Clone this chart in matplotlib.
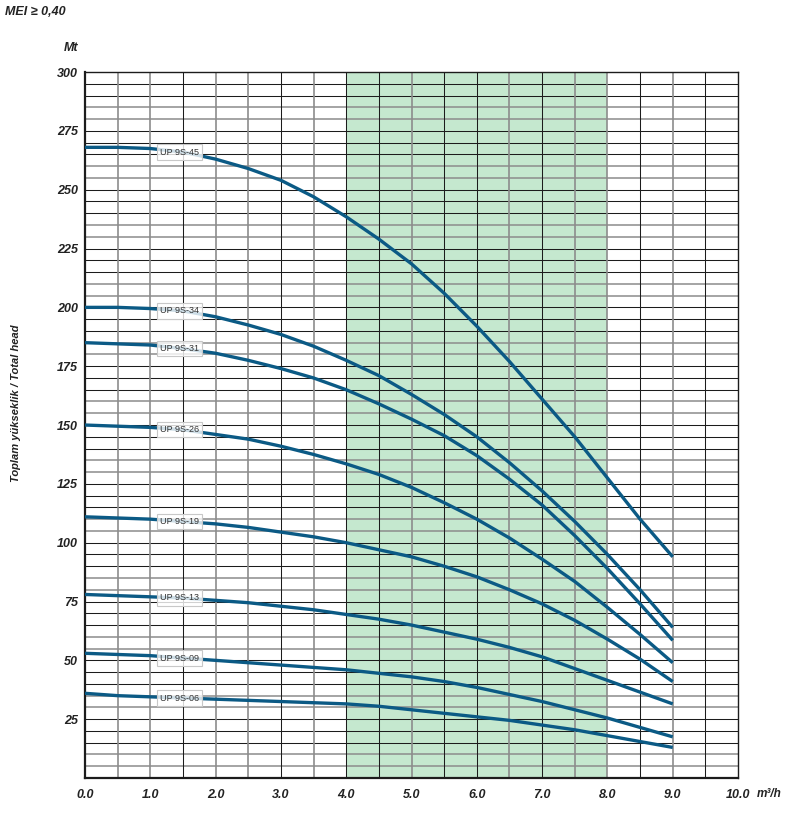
import numpy as np
import matplotlib
matplotlib.use("Agg")
import matplotlib.pyplot as plt

# -------------------------------------------------------
# Data (flow m3/h -> head m)
# -------------------------------------------------------
flow = [0.0, 0.5, 1.0, 1.5, 2.0, 2.5, 3.0, 3.5, 4.0, 4.5,
        5.0, 5.5, 6.0, 6.5, 7.0, 7.5, 8.0, 8.5, 9.0]

head_45 = [268, 268, 267.5, 266, 263, 259, 254, 247, 238.5, 229,
           218.5, 206, 192, 177, 161, 145, 127.5, 110, 94]
head_34 = [200, 200, 199.5, 198.5, 196, 192.5, 188.5, 183.5, 177.5, 171,
           163, 154.5, 145, 134, 122, 109, 95, 80, 64]
head_31 = [185, 184.5, 184, 182.5, 180.5, 177.5, 174, 170, 165, 159,
           152.5, 145.5, 137, 127, 116, 103, 89, 74, 58.5]
head_26 = [150, 149.5, 149, 148, 146, 144, 141, 137.5, 133.5, 129,
           123.5, 117, 110, 102, 93, 83.5, 72.5, 61, 49]
head_19 = [111, 110.5, 110, 109, 108, 106.5, 104.5, 102.5, 100, 97,
           94, 90, 85.5, 80, 74, 67, 59, 50.5, 41]
head_13 = [78, 77.5, 77, 76.5, 75.5, 74.5, 73, 71.5, 69.5, 67.5,
           65, 62, 59, 55.5, 51.5, 46.5, 41.5, 36.5, 31.5]
head_09 = [53, 52.5, 52, 51, 50, 49, 48, 47, 46, 44.5,
           43, 41, 38.5, 35.5, 32.5, 29, 25.5, 21.5, 17.5]
head_06 = [36, 35, 34.5, 34, 33.5, 33, 32.5, 32, 31.5, 30.5,
           29, 27.5, 26, 24.5, 22.5, 20.5, 18, 15.5, 13]

models = ["UP 9S-45", "UP 9S-34", "UP 9S-31", "UP 9S-26",
          "UP 9S-19", "UP 9S-13", "UP 9S-09", "UP 9S-06"]
heads = [head_45, head_34, head_31, head_26, head_19, head_13, head_09, head_06]

x_ticks = [0, 1, 2, 3, 4, 5, 6, 7, 8, 9, 10]
y_ticks = [25, 50, 75, 100, 125, 150, 175, 200, 225, 250, 275, 300]

# -------------------------------------------------------
# Style
# -------------------------------------------------------
CURVE_COLOR = "#0b5a85"
GREEN       = "#c5e8cf"
DARK        = "#1c1c1c"
GREY        = "#8c8c8c"
TEXT_COLOR  = "#222222"
FONT        = ["Liberation Sans", "DejaVu Sans"]

plt.rcParams["font.family"] = FONT

fig = plt.figure(figsize=(7.89, 8.14), dpi=100)
ax = fig.add_axes([0.1077, 0.0442, 0.8277, 0.8673])
ax.set_xlim(0, 10)
ax.set_ylim(0, 300)

# best efficiency band
ax.axvspan(4, 8, color=GREEN, zorder=0, lw=0)

# grid: horizontal every 5 m, vertical every 0.5 m3/h
for v in np.arange(5, 300, 5):
    grey = (v % 25) in (5, 10)
    ax.axhline(v, color=GREY if grey else DARK, lw=1.1 if grey else 0.75, zorder=1)

grey_vert = {0.5, 1.0, 2.0, 2.5, 3.5, 5.0, 6.5, 7.5, 8.0, 9.0}
for v in np.arange(0.5, 10, 0.5):
    grey = float(v) in grey_vert
    ax.axvline(v, color=GREY if grey else DARK, lw=1.2 if grey else 0.75, zorder=1)

for s in ax.spines.values():
    s.set_color(DARK)
    s.set_linewidth(1.0)
ax.spines["left"].set_linewidth(1.6)
ax.spines["bottom"].set_linewidth(1.6)

# curves + labels
for name, h in zip(models, heads):
    ax.plot(flow, h, color=CURVE_COLOR, lw=2.4, solid_capstyle="butt", zorder=3)
    y_lab = np.interp(1.5, flow, h)
    ax.text(1.15, y_lab, name, fontsize=6.5, color="#333333", ha="left", va="center",
            zorder=4,
            bbox=dict(boxstyle="square,pad=0.35", fc=(1, 1, 1, 0.8),
                      ec="#c8c8c8", lw=0.8))

ax.set_xticks(x_ticks)
ax.set_xticklabels([f"{t:.1f}" for t in x_ticks])
ax.set_yticks(y_ticks)
ax.set_yticklabels([str(t) for t in y_ticks])
ax.tick_params(length=0, labelsize=9, colors=TEXT_COLOR)
ax.tick_params(axis="y", pad=5)
ax.tick_params(axis="x", pad=8)
for lab in ax.get_xticklabels() + ax.get_yticklabels():
    lab.set_fontweight("bold")
    lab.set_fontstyle("italic")

ax.text(10.28, -7, "m³/h", fontsize=8.5, fontweight="bold", style="italic",
        color=TEXT_COLOR, ha="left", va="center", clip_on=False)

fig.text(0.0065, 0.985, "MEI ≥ 0,40", fontsize=9, fontweight="bold", style="italic",
         color=TEXT_COLOR, ha="left", va="center")
fig.text(0.099, 0.941, "Mt", fontsize=9, fontweight="bold", style="italic",
         color=TEXT_COLOR, ha="right", va="center")
fig.text(0.02, 0.505, "Toplam yükseklik / Total head", fontsize=8,
         fontweight="bold", style="italic", color=TEXT_COLOR,
         rotation=90, ha="center", va="center")

fig.savefig("out.png", dpi=100)
